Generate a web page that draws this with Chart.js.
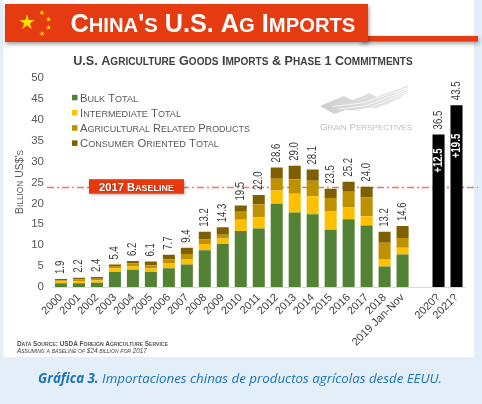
<!DOCTYPE html>
<html><head><meta charset="utf-8">
<script src="https://cdn.jsdelivr.net/npm/chart.js@4/dist/chart.umd.min.js"></script>
<style>html,body{margin:0;padding:0;background:#E4EEF8;}canvas{display:block}</style>
</head><body>
<canvas id="c" width="482" height="404"></canvas>
<script>
const categories = ['2000','2001','2002','2003','2004','2005','2006','2007','2008','2009','2010','2011','2012','2013','2014','2015','2016','2017','2018','2019 Jan-Nov','','2020?','2021?'];
const bulkTotal =         [0.9,0.9,1.0,3.6,4.1,3.6,4.5,5.4,8.8,10.3,13.4,14.0,19.9,17.8,17.4,13.7,16.2,14.7,4.9,7.8,null,null,null];
const intermediateTotal = [0.4,0.5,0.6,0.9,0.8,0.8,1.1,1.3,1.5,1.3,2.7,2.6,3.2,4.5,4.3,4.5,2.8,2.2,1.8,1.6,null,null,null];
const agriRelated =       [0.3,0.4,0.4,0.5,0.7,0.8,1.0,1.2,1.1,0.9,1.9,3.2,2.8,3.5,3.7,3.1,3.8,4.5,3.9,2.3,null,null,null];
const consumerOriented =  [0.3,0.4,0.4,0.4,0.6,0.9,1.1,1.5,1.8,1.8,1.5,2.2,2.7,3.2,2.7,2.2,2.4,2.6,2.6,2.9,null,null,null];
const importTotals =      [1.9,2.2,2.4,5.4,6.2,6.1,7.7,9.4,13.2,14.3,19.5,22.0,28.6,29.0,28.1,23.5,25.2,24.0,13.2,14.6,null,null,null];
const phase1Commitment =  [null,null,null,null,null,null,null,null,null,null,null,null,null,null,null,null,null,null,null,null,null,36.5,43.5];
const baseline2017 = 24;
const yMin = 0, yMax = 50, yStep = 5;
const seriesNames = ['Bulk Total','Intermediate Total','Agricultural Related Products','Consumer Oriented Total','Phase 1 Commitment'];
const seriesColors = ['#548235','#FFC000','#BF9000','#7F6000','#000000'];

const SANS = '"Liberation Sans", Arial, sans-serif';

function scText(ctx, text, x, y, o) {
  const big = o.big, small = o.small || big * 0.8;
  const segs = [];
  for (const ch of text) {
    const lower = ch !== ch.toUpperCase();
    const c = ch.toUpperCase();
    if (segs.length && segs[segs.length - 1].lower === lower) segs[segs.length - 1].t += c;
    else segs.push({ t: c, lower });
  }
  const fontOf = (s, k) => `${o.style || 'normal'} ${o.weight || 'normal'} ${(s.lower ? small : big) * k}px ${o.family || SANS}`;
  const measure = (k) => { let t = 0; segs.forEach(s => { ctx.font = fontOf(s, k); s.w = ctx.measureText(s.t).width; t += s.w; }); return t; };
  let k = 1; let total = measure(1);
  if (o.fit) { k = o.fit / total; total = measure(k); }
  let cx = o.align === 'center' ? x - total / 2 : o.align === 'right' ? x - total : x;
  ctx.fillStyle = o.color || '#000'; ctx.textAlign = 'left'; ctx.textBaseline = 'alphabetic';
  segs.forEach(s => { ctx.font = fontOf(s, k); ctx.fillText(s.t, cx, y); cx += s.w; });
  return total;
}

function star(ctx, cx, cy, r, rot) {
  ctx.beginPath();
  for (let i = 0; i < 10; i++) {
    const rr = i % 2 === 0 ? r : r * 0.382;
    const a = rot - Math.PI / 2 + i * Math.PI / 5;
    ctx.lineTo(cx + rr * Math.cos(a), cy + rr * Math.sin(a));
  }
  ctx.closePath(); ctx.fill();
}

const decor = {
  id: 'decor',
  beforeDraw(chart) {
    const ctx = chart.ctx;
    ctx.save();
    ctx.fillStyle = '#E4EEF8'; ctx.fillRect(0, 0, 482, 404);
    ctx.fillStyle = '#FFFFFF'; ctx.fillRect(3, 0, 471, 357);
    // banner
    ctx.save();
    ctx.shadowColor = 'rgba(0,0,0,0.4)'; ctx.shadowBlur = 4; ctx.shadowOffsetY = 2; ctx.shadowOffsetX = 1;
    ctx.fillStyle = '#E63A10';
    ctx.fillRect(360, 36, 118, 5.5);
    ctx.fillRect(5, 4, 363, 38);
    ctx.restore();
    ctx.fillStyle = '#FFDE00';
    star(ctx, 27, 22.5, 8, 0);
    star(ctx, 42, 12.7, 2.8, 0.4);
    star(ctx, 48.5, 19.2, 2.8, 0.2);
    star(ctx, 48.5, 27.5, 2.8, -0.1);
    star(ctx, 42, 33.7, 2.8, -0.3);
    scText(ctx, "China's U.S. Ag Imports", 70.5, 32, { big: 25, small: 20, weight: 'bold', color: '#FFFFFF', fit: 285 });
    // subtitle
    scText(ctx, 'U.S. Agriculture Goods Imports & Phase 1 Commitments', 243, 64.5, { big: 12.5, small: 10, weight: 'bold', color: '#404040', align: 'center', fit: 340 });
    // legend
    const ly = [97.5, 112.7, 127.9, 143.1];
    for (let i = 0; i < 4; i++) {
      ctx.fillStyle = seriesColors[i];
      ctx.fillRect(72, ly[i] - 2.7, 5.5, 5.5);
      scText(ctx, seriesNames[i], 80, ly[i] + 4, { big: 11, small: 8.8, color: '#595959', fit: [58, 101, 170, 139][i] });
    }
    // watermark graphic
    ctx.save();
    const top = [[320,106],[332,101],[344,96],[352,100],[361,97],[369,93],[377,97],[386,93],[396,90],[408,85]];
    const bot = [[334,114],[346,110],[356,111],[366,108],[376,108],[388,104],[400,98],[408,92]];
    const g = ctx.createLinearGradient(320, 0, 410, 0);
    g.addColorStop(0, 'rgba(200,200,200,0.9)'); g.addColorStop(1, 'rgba(225,225,225,0.7)');
    ctx.fillStyle = g;
    ctx.beginPath();
    top.forEach((p, i) => i ? ctx.lineTo(p[0], p[1]) : ctx.moveTo(p[0], p[1]));
    for (let i = bot.length - 1; i >= 0; i--) ctx.lineTo(bot[i][0], bot[i][1]);
    ctx.closePath(); ctx.fill();
    ctx.strokeStyle = 'rgba(255,255,255,0.85)'; ctx.lineWidth = 0.8;
    for (let j = 1; j < 4; j++) {
      ctx.beginPath();
      ctx.moveTo(326 + j * 6, 104 + j * 2.6);
      ctx.lineTo(360 + j * 3, 100 + j * 2.8);
      ctx.lineTo(408, 86 + j * 1.8);
      ctx.stroke();
    }
    ctx.restore();
    scText(ctx, 'Grain Perspectives', 320, 130, { big: 11, small: 8.8, color: '#BDBDBD', fit: 92 });
    // y title
    ctx.save();
    ctx.translate(22.5, 182); ctx.rotate(-Math.PI / 2);
    scText(ctx, "Billion US$'s", 0, 0, { big: 10, small: 8, color: '#595959', align: 'center', fit: 64 });
    ctx.restore();
    // footnotes
    scText(ctx, 'Data Source: USDA Foreign Agriculture Service', 17, 345.5, { big: 6.5, small: 5.2, weight: 'bold', color: '#505050', fit: 151 });
    scText(ctx, 'Assuming a baseline of $24 billion for 2017', 17, 352.5, { big: 6.5, small: 5.2, style: 'italic', color: '#404040', fit: 130 });
    // caption
    const capFam = '"Open Sans", "Noto Sans", sans-serif';
    const p1 = 'Gráfica 3.', p2 = ' Importaciones chinas de productos agrícolas desde EEUU.';
    let fs = 13;
    ctx.font = `italic bold ${fs}px ${capFam}`; let w1 = ctx.measureText(p1).width;
    ctx.font = `italic normal ${fs}px ${capFam}`; let w2 = ctx.measureText(p2).width;
    fs = fs * 404 / (w1 + w2);
    ctx.font = `italic bold ${fs}px ${capFam}`; w1 = ctx.measureText(p1).width;
    ctx.font = `italic normal ${fs}px ${capFam}`; w2 = ctx.measureText(p2).width;
    let cx = 240 - (w1 + w2) / 2;
    ctx.fillStyle = '#1B74BA'; ctx.textBaseline = 'alphabetic'; ctx.textAlign = 'left';
    ctx.font = `italic bold ${fs}px ${capFam}`; ctx.fillText(p1, cx, 383);
    ctx.font = `italic normal ${fs}px ${capFam}`; ctx.fillText(p2, cx + w1, 383);
    ctx.restore();
  },
  beforeDatasetsDraw(chart) {
    const ctx = chart.ctx, ys = chart.scales.y;
    const yb = Math.round(ys.getPixelForValue(baseline2017)) + 0.5;
    ctx.save();
    ctx.strokeStyle = '#F2775A'; ctx.lineWidth = 1.3; ctx.setLineDash([7, 3, 2, 3]);
    ctx.beginPath(); ctx.moveTo(47, yb); ctx.lineTo(478, yb); ctx.stroke();
    ctx.restore();
  },
  afterDatasetsDraw(chart) {
    const ctx = chart.ctx, ys = chart.scales.y;
    const yb = ys.getPixelForValue(baseline2017);
    // baseline box
    ctx.save();
    ctx.shadowColor = 'rgba(0,0,0,0.35)'; ctx.shadowBlur = 3; ctx.shadowOffsetX = 1; ctx.shadowOffsetY = 1.5;
    ctx.fillStyle = '#E8380E';
    ctx.fillRect(89, yb - 7.5, 95, 14.5);
    ctx.restore();
    ctx.save();
    ctx.shadowColor = 'rgba(0,0,0,0.5)'; ctx.shadowBlur = 1; ctx.shadowOffsetX = 0.5; ctx.shadowOffsetY = 0.5;
    scText(ctx, '2017 Baseline', 136.5, yb + 4, { big: 11, small: 8.8, weight: 'bold', color: '#FFFFFF', align: 'center', fit: 75 });
    ctx.restore();
    // totals
    const topMeta = chart.getDatasetMeta(3);
    const phMeta = chart.getDatasetMeta(4);
    const vlabel = (txt, x, y, color, font, align) => {
      ctx.save(); ctx.translate(x, y); ctx.rotate(-Math.PI / 2); ctx.scale(0.8, 1);
      ctx.font = font; ctx.fillStyle = color; ctx.textAlign = align; ctx.textBaseline = 'middle';
      ctx.fillText(txt, 0, 0); ctx.restore();
    };
    importTotals.forEach((v, i) => {
      if (v == null) return;
      const el = topMeta.data[i];
      vlabel(v.toFixed(1), el.x, el.y - 5, '#404040', `12px ${SANS}`, 'left');
    });
    phase1Commitment.forEach((v, i) => {
      if (v == null) return;
      const el = phMeta.data[i];
      vlabel(v.toFixed(1), el.x, el.y - 5, '#404040', `12px ${SANS}`, 'left');
      const mid = ys.getPixelForValue((v + baseline2017) / 2);
      vlabel('+' + (v - baseline2017).toFixed(1), el.x, mid, '#FFFFFF', `bold 12px ${SANS}`, 'center');
    });
  }
};

const ds = (data, i) => ({ label: seriesNames[i], data, backgroundColor: seriesColors[i], barPercentage: 0.67, categoryPercentage: 1.0, borderWidth: 0 });

new Chart(document.getElementById('c'), {
  type: 'bar',
  data: {
    labels: categories,
    datasets: [ds(bulkTotal, 0), ds(intermediateTotal, 1), ds(agriRelated, 2), ds(consumerOriented, 3), ds(phase1Commitment, 4)]
  },
  options: {
    responsive: false, animation: false, devicePixelRatio: 1,
    layout: { padding: { left: 0, top: 78, right: 16.5, bottom: 0 } },
    plugins: { legend: { display: false }, tooltip: { enabled: false } },
    scales: {
      x: {
        stacked: true,
        grid: { display: false, drawTicks: false },
        border: { display: true, color: '#D9D9D9', width: 1 },
        ticks: { color: '#404040', font: { family: SANS, size: 11 }, maxRotation: 45, minRotation: 45, autoSkip: false, padding: 4 },
        afterFit(s) { s.height = 117; }
      },
      y: {
        stacked: true, min: yMin, max: yMax,
        ticks: { stepSize: yStep, color: '#595959', font: { family: SANS, size: 11.5 }, padding: 8 },
        grid: { display: false, drawTicks: false },
        border: { display: false },
        afterFit(s) { s.width = 52; }
      }
    }
  },
  plugins: [decor]
});
</script>
</body></html>
